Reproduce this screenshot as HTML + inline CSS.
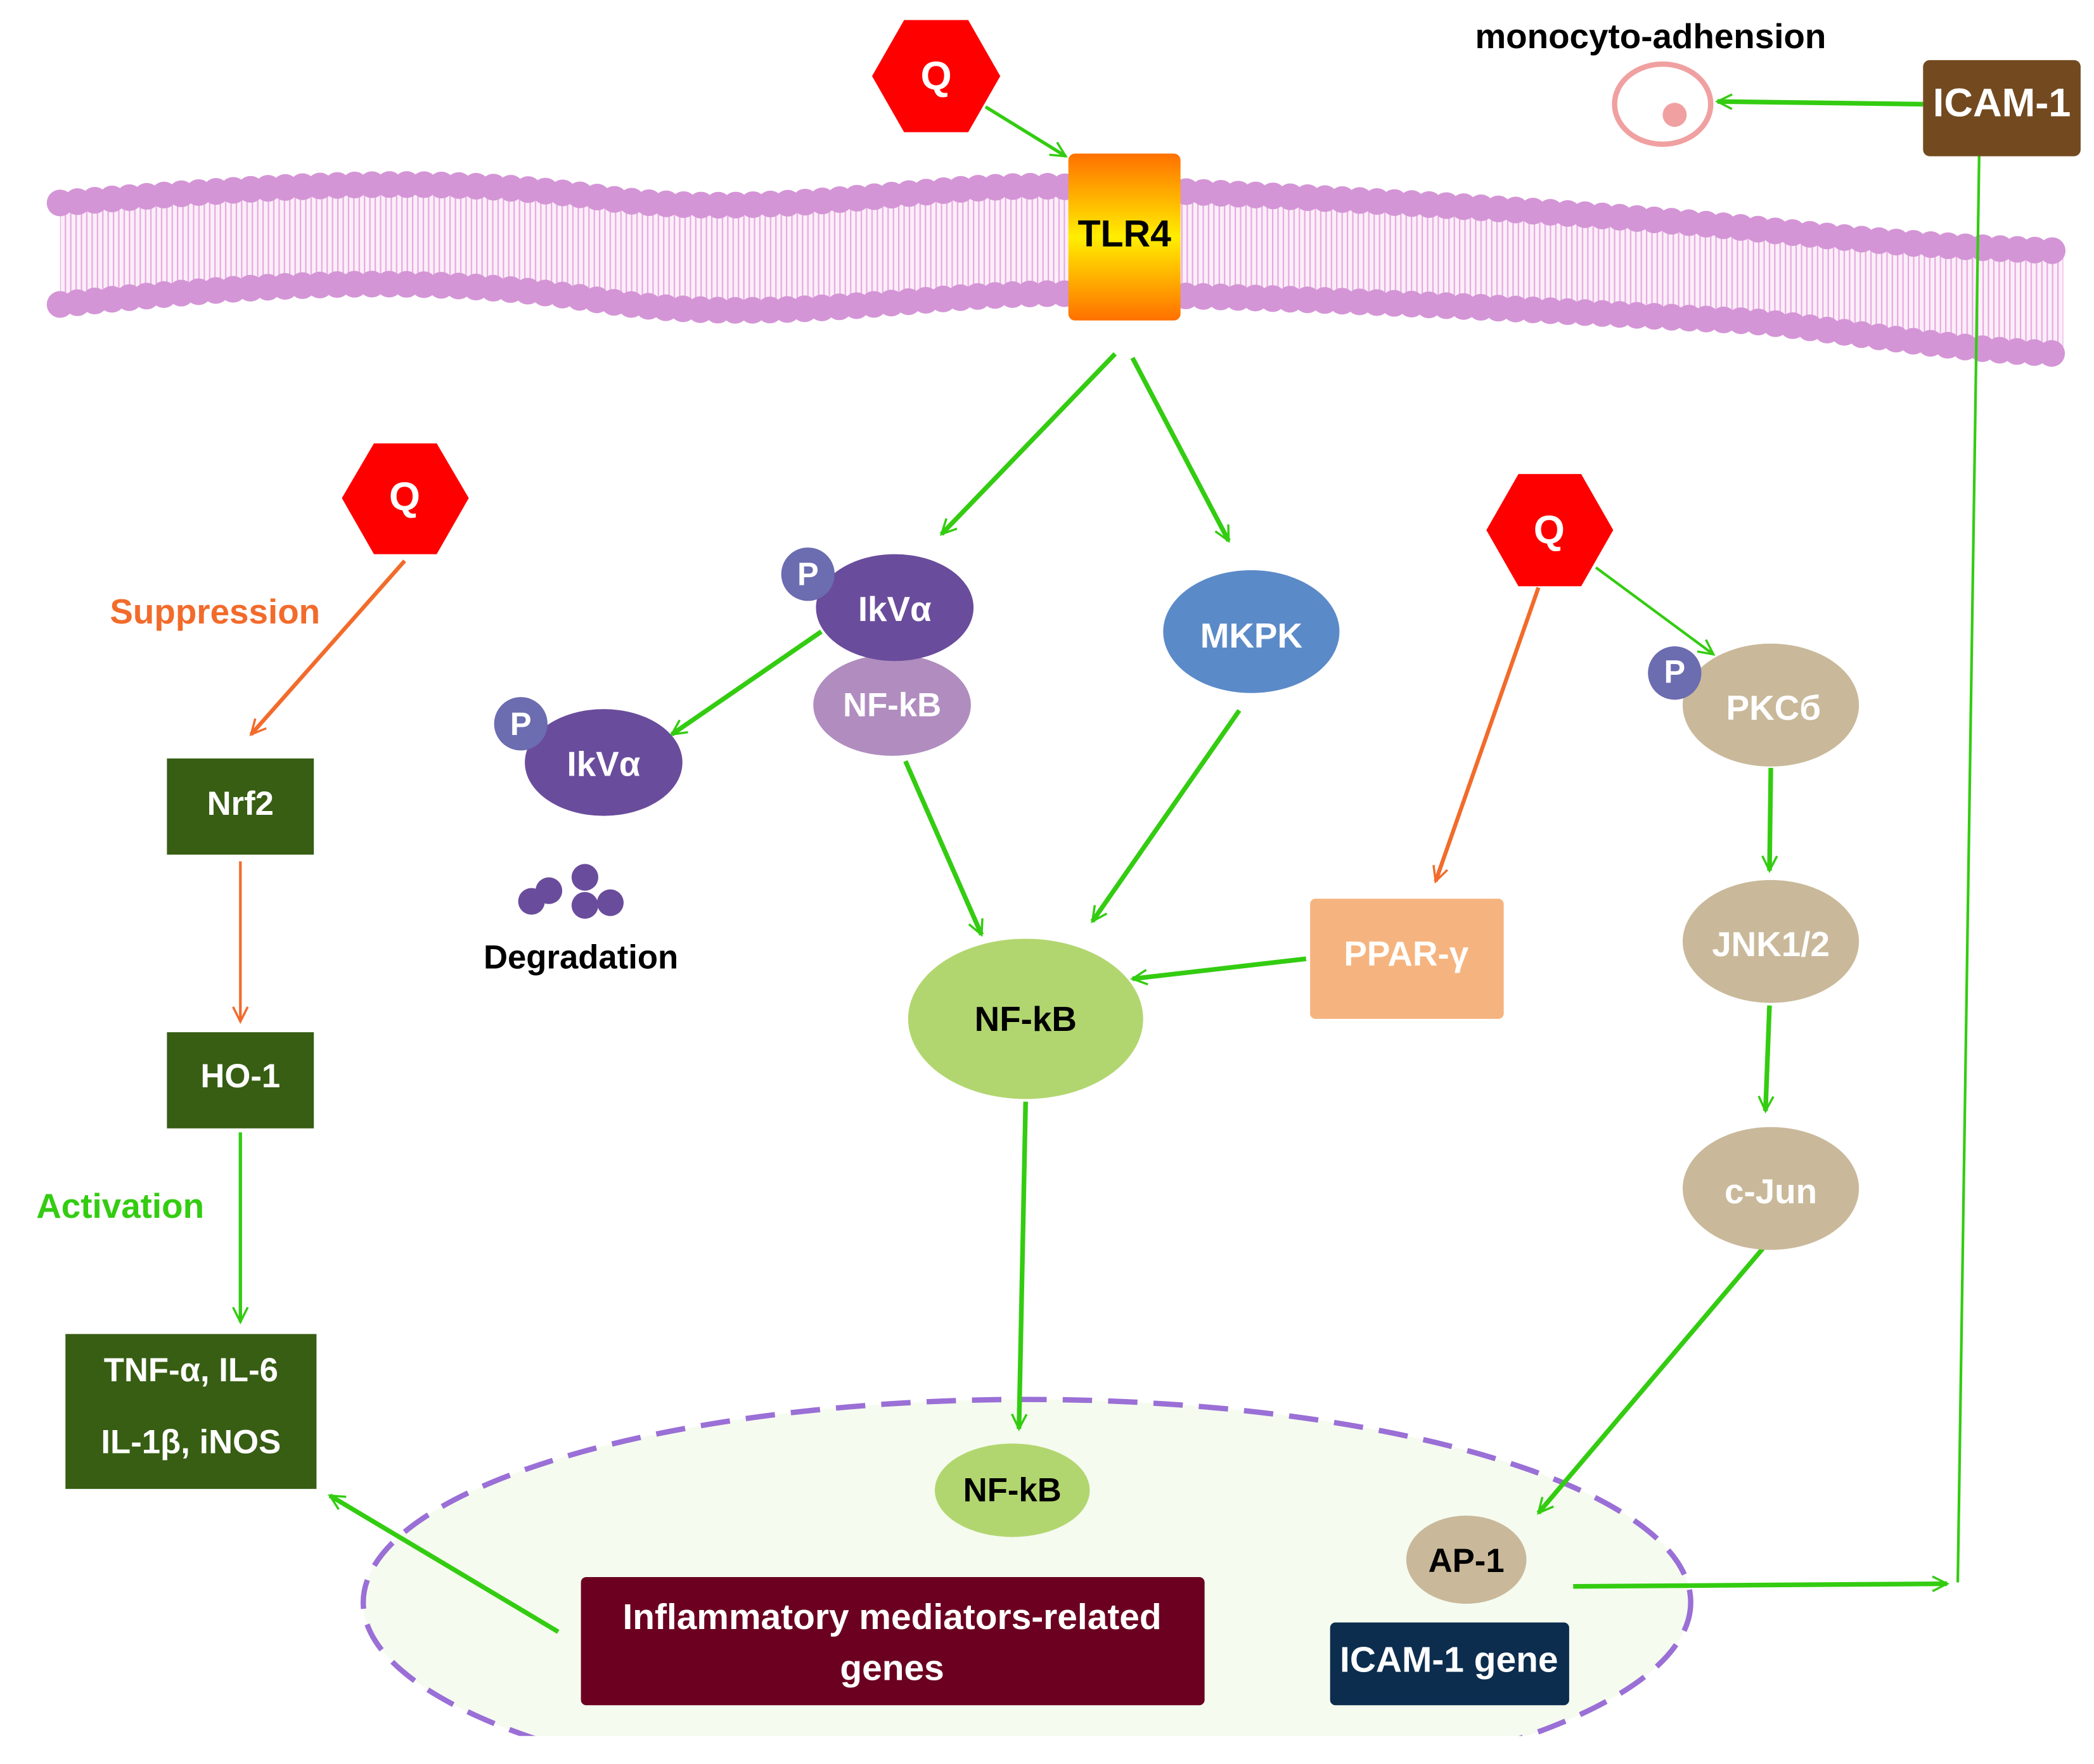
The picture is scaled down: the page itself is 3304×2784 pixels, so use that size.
<!DOCTYPE html>
<html><head><meta charset="utf-8"><style>
html,body{margin:0;padding:0;background:#fff;}
svg{display:block;}
text{font-family:"Liberation Sans",sans-serif;font-weight:bold;text-anchor:middle;dominant-baseline:central;}
</style></head><body>
<svg width="3304" height="2784" viewBox="0 0 1568 1321" preserveAspectRatio="none" xmlns="http://www.w3.org/2000/svg">
<defs>
<linearGradient id="tlr" x1="0" y1="0" x2="0" y2="1">
<stop offset="0" stop-color="#ff7000"/><stop offset="0.5" stop-color="#ffee00"/><stop offset="1" stop-color="#ff7000"/>
</linearGradient>
<pattern id="tails" width="4" height="10" patternUnits="userSpaceOnUse">
<rect width="4" height="10" fill="#fbeef9"/>
<line x1="1" y1="0" x2="1" y2="10" stroke="#e7a6df" stroke-width="1"/>
</pattern>
<marker id="g" viewBox="0 0 20 20" refX="18" refY="10" markerWidth="11" markerHeight="11" markerUnits="userSpaceOnUse" orient="auto" overflow="visible">
<polyline points="-2,0 18,10 -2,20" fill="none" stroke="#33cc11" stroke-width="3"/></marker>
<marker id="o" viewBox="0 0 20 20" refX="18" refY="10" markerWidth="11" markerHeight="11" markerUnits="userSpaceOnUse" orient="auto" overflow="visible">
<polyline points="-2,0 18,10 -2,20" fill="none" stroke="#f26b2b" stroke-width="3"/></marker>
<clipPath id="cl"><rect x="0" y="0" width="1568" height="1300"/></clipPath>
</defs>

<!-- membrane -->
<path d="M45,152 C200,140 320,130 450,148 S700,135 800,140 C950,145 1200,160 1300,170 S1450,185 1545,188 L1545,265 C1450,262 1350,250 1300,240 S1000,222 800,220 C700,218 600,230 450,225 S200,212 45,228 Z" fill="url(#tails)"/>
<path d="M45,152 C200,140 320,130 450,148 S700,135 800,140 C950,145 1200,160 1300,170 S1450,185 1545,188" fill="none" stroke="#d495d6" stroke-width="20" stroke-dasharray="0 13" stroke-linecap="round"/>
<path d="M45,228 C200,212 320,205 450,225 S700,218 800,220 C1000,222 1250,238 1300,240 S1450,262 1545,265" fill="none" stroke="#d495d6" stroke-width="20" stroke-dasharray="0 13" stroke-linecap="round"/>

<!-- nucleus -->
<g clip-path="url(#cl)">
<ellipse cx="769" cy="1200" rx="497" ry="152" fill="#f5fbef" stroke="#9a6fd6" stroke-width="4" stroke-dasharray="22 12"/>
</g>

<!-- arrows -->
<g fill="none" stroke="#33cc11" stroke-width="3.5" marker-end="url(#g)">
<line x1="738" y1="80" x2="798" y2="117" stroke-width="2.5"/>
<line x1="1440" y1="78" x2="1286" y2="76"/>
<line x1="835" y1="265" x2="705" y2="400"/>
<line x1="848" y1="268" x2="920" y2="405"/>
<line x1="615" y1="473" x2="503" y2="550"/>
<line x1="678" y1="570" x2="735" y2="700"/>
<line x1="928" y1="532" x2="818" y2="690"/>
<line x1="978" y1="718" x2="848" y2="733"/>
<line x1="1195" y1="425" x2="1283" y2="490" stroke-width="2"/>
<line x1="1326" y1="575" x2="1325" y2="652"/>
<line x1="1325" y1="753" x2="1322" y2="832"/>
<line x1="1320" y1="935" x2="1152" y2="1133"/>
<line x1="768" y1="825" x2="763" y2="1070"/>
<line x1="180" y1="848" x2="180" y2="990" stroke-width="2.5"/>
<line x1="418" y1="1222" x2="247" y2="1120"/>
<line x1="1178" y1="1188" x2="1458" y2="1186"/>
</g>
<line x1="1482" y1="117" x2="1466" y2="1185" stroke="#33cc11" stroke-width="2"/>
<g fill="none" stroke="#f26b2b" stroke-width="3" marker-end="url(#o)">
<line x1="303" y1="420" x2="188" y2="550"/>
<line x1="180" y1="645" x2="180" y2="765" stroke-width="2"/>
<line x1="1152" y1="440" x2="1075" y2="660"/>
</g>

<!-- Q hexagons -->
<polygon points="653,57 677,15 725,15 749,57 725,99 677,99" fill="#ff0000"/>
<text x="701" y="57" fill="#fff" font-size="30">Q</text>
<polygon points="256,373 280,332 327,332 351,373 327,415 280,415" fill="#ff0000"/>
<text x="303" y="372" fill="#fff" font-size="30">Q</text>
<polygon points="1113,397 1137,355 1184,355 1208,397 1184,439 1137,439" fill="#ff0000"/>
<text x="1160" y="397" fill="#fff" font-size="30">Q</text>

<!-- TLR4 -->
<rect x="800" y="115" width="84" height="125" rx="5" fill="url(#tlr)"/>
<text x="842" y="175" font-size="28">TLR4</text>

<!-- top right -->
<text x="1236" y="27" font-size="26">monocyto-adhension</text>
<ellipse cx="1245" cy="78" rx="36" ry="30" fill="none" stroke="#f0a0a0" stroke-width="4"/>
<circle cx="1254" cy="86" r="9" fill="#f0a0a0"/>
<rect x="1440" y="45" width="118" height="72" rx="5" fill="#734a1f"/>
<text x="1499" y="77" fill="#fff" font-size="30">ICAM-1</text>

<!-- left column -->
<text x="161" y="458" fill="#f26b2b" font-size="26">Suppression</text>
<rect x="125" y="568" width="110" height="72" fill="#375e13"/>
<text x="180" y="602" fill="#fff" font-size="25">Nrf2</text>
<rect x="125" y="773" width="110" height="72" fill="#375e13"/>
<text x="180" y="806" fill="#fff" font-size="25">HO-1</text>
<text x="90" y="903" fill="#33cc11" font-size="26">Activation</text>
<rect x="49" y="999" width="188" height="116" fill="#375e13"/>
<text x="143" y="1026" fill="#fff" font-size="25">TNF-α, IL-6</text>
<text x="143" y="1080" fill="#fff" font-size="25">IL-1β, iNOS</text>

<!-- IkBa complex -->
<ellipse cx="668" cy="528" rx="59" ry="38" fill="#b08cbf"/>
<text x="668" y="528" fill="#fff" font-size="25">NF-kB</text>
<ellipse cx="670" cy="455" rx="59" ry="40" fill="#6a4c9c"/>
<text x="670" y="456" fill="#fff" font-size="26">IkVα</text>
<circle cx="605" cy="430" r="20" fill="#6c6cb0"/>
<text x="605" y="430" fill="#fff" font-size="24">P</text>
<ellipse cx="452" cy="571" rx="59" ry="40" fill="#6a4c9c"/>
<text x="452" y="572" fill="#fff" font-size="26">IkVα</text>
<circle cx="390" cy="542" r="20" fill="#6c6cb0"/>
<text x="390" y="542" fill="#fff" font-size="24">P</text>
<g fill="#6a4c9c"><circle cx="398" cy="675" r="10"/><circle cx="411" cy="667" r="10"/><circle cx="438" cy="657" r="10"/><circle cx="438" cy="678" r="10"/><circle cx="457" cy="676" r="10"/></g>
<text x="435" y="717" font-size="25">Degradation</text>

<ellipse cx="937" cy="473" rx="66" ry="46" fill="#5b8ac8"/>
<text x="937" y="476" fill="#fff" font-size="26">MKPK</text>
<ellipse cx="768" cy="763" rx="88" ry="60" fill="#b2d66f"/>
<text x="768" y="763" font-size="26">NF-kB</text>
<rect x="981" y="673" width="145" height="90" rx="4" fill="#f5b47f"/>
<text x="1053" y="714" fill="#fff" font-size="26">PPAR-γ</text>

<!-- right column -->
<ellipse cx="1326" cy="528" rx="66" ry="46" fill="#c9b99a"/>
<text x="1328" y="530" fill="#fff" font-size="26">PKCб</text>
<circle cx="1254" cy="504" r="20" fill="#6c6cb0"/>
<text x="1254" y="503" fill="#fff" font-size="24">P</text>
<ellipse cx="1326" cy="705" rx="66" ry="46" fill="#c9b99a"/>
<text x="1326" y="707" fill="#fff" font-size="26">JNK1/2</text>
<ellipse cx="1326" cy="890" rx="66" ry="46" fill="#c9b99a"/>
<text x="1326" y="892" fill="#fff" font-size="26">c-Jun</text>

<!-- nucleus contents -->
<ellipse cx="758" cy="1116" rx="58" ry="35" fill="#b2d66f"/>
<text x="758" y="1116" font-size="25">NF-kB</text>
<rect x="435" y="1181" width="467" height="96" rx="4" fill="#6b0020"/>
<text x="668" y="1211" fill="#fff" font-size="27">Inflammatory mediators-related</text>
<text x="668" y="1249" fill="#fff" font-size="27">genes</text>
<ellipse cx="1098" cy="1168" rx="45" ry="33" fill="#c9b99a"/>
<text x="1098" y="1169" font-size="25">AP-1</text>
<rect x="996" y="1215" width="179" height="62" rx="4" fill="#0c2d4e"/>
<text x="1085" y="1243" fill="#fff" font-size="27">ICAM-1 gene</text>
</svg>
</body></html>
